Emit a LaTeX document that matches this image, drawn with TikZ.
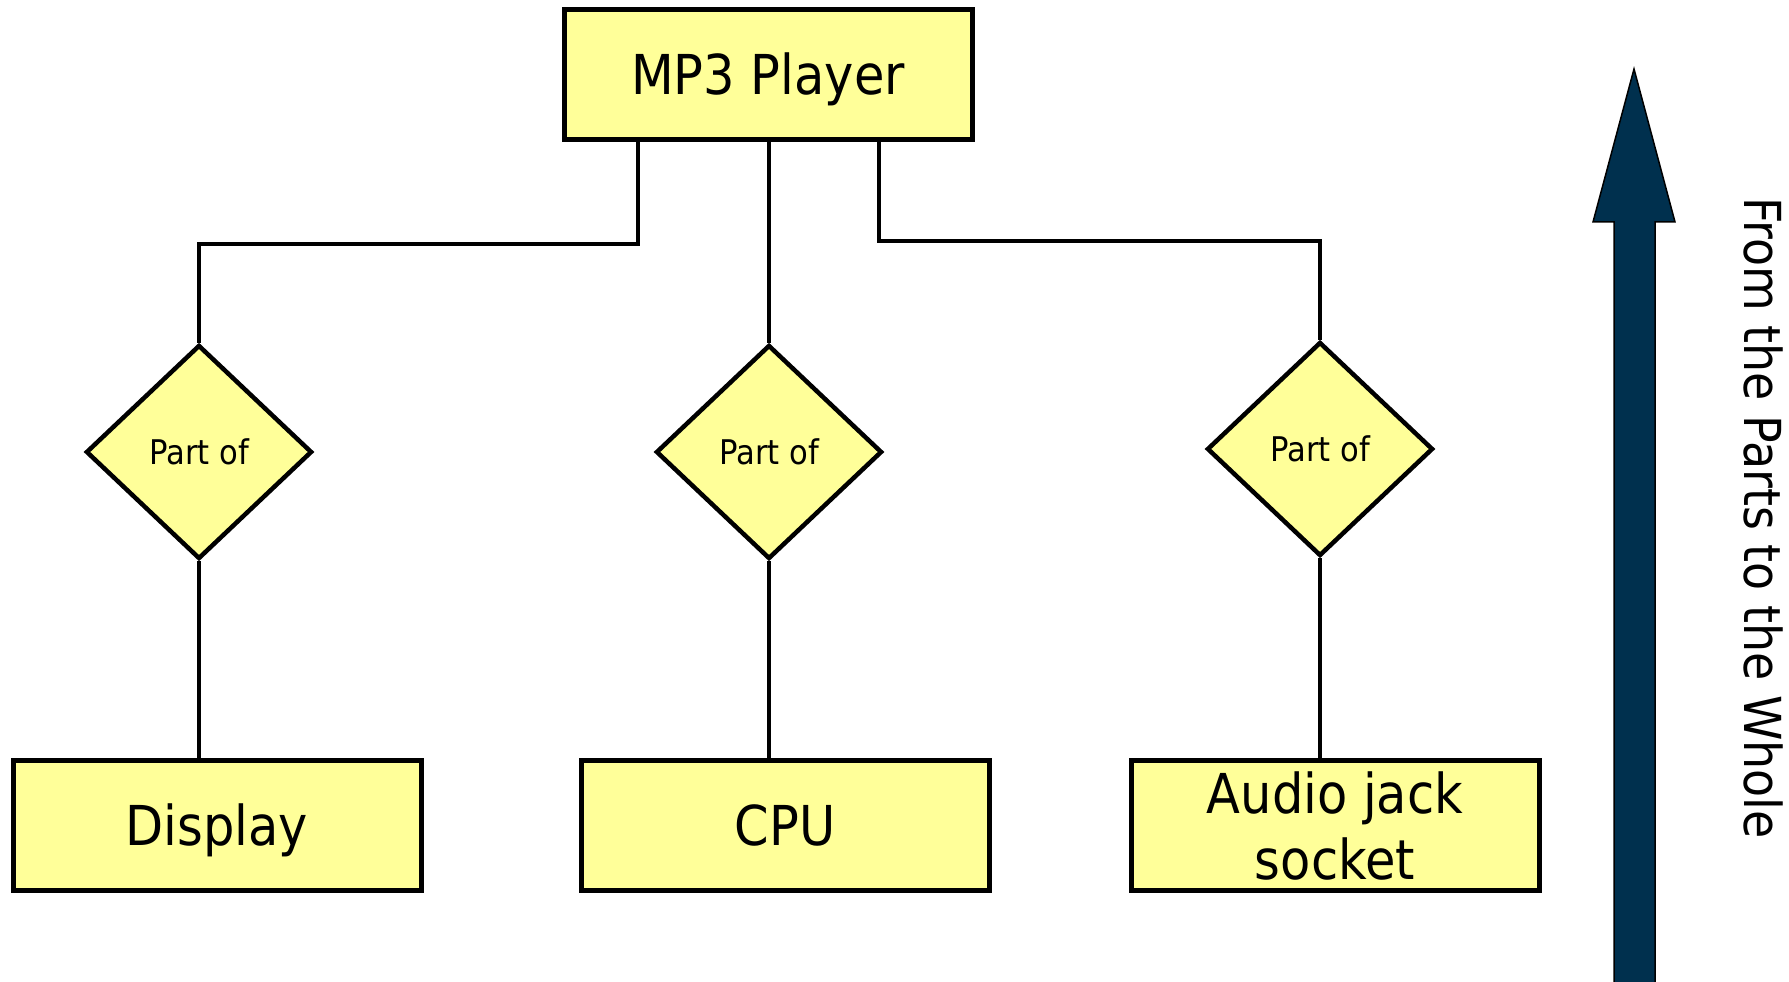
\documentclass[tikz,border=0pt]{standalone}
\usepackage{fontspec}
\setmainfont{DejaVu Sans}[FakeStretch=0.9]
\usetikzlibrary{shapes.geometric}
\definecolor{partfill}{HTML}{FFFF99}
\definecolor{arrowfill}{HTML}{00304E}
\begin{document}
\begin{tikzpicture}[x=1pt,y=1pt,
    comp/.style={draw,fill=partfill,line width=5pt,minimum width=408pt,minimum height=130pt,inner sep=0pt,font=\fontsize{55}{66}\selectfont},
    oneline/.style={text height=40pt,text depth=0pt},
    rel/.style={diamond,draw,fill=partfill,line width=4.5pt,minimum width=226pt,minimum height=214pt,inner sep=0pt,text height=25pt,text depth=0pt,font=\fontsize{34}{40}\selectfont},
    link/.style={line width=4.5pt}]
    \useasboundingbox (0,0) rectangle (1789,982);
    \node[comp,oneline] (mp3) at (768,907) {MP3 Player};
    \node[comp,oneline] (display) at (217,156) {Display};
    \node[comp,oneline] (cpu) at (785,156) {CPU};
    \node[comp,align=center] (audio) at (1335,156) {Audio jack\\socket};
    \node[rel] (displayof) at (199,530) {Part of};
    \node[rel] (cpuof) at (769,530) {Part of};
    \node[rel] (audioof) at (1320,533) {Part of};
    \coordinate (lknee) at (638,738);
    \coordinate (rknee) at (879,741);
    \draw[link] (mp3.south -| lknee) -- (lknee) -| (displayof.north);
    \draw[link] (mp3.south -| cpuof.north) -- (cpuof.north);
    \draw[link] (mp3.south -| rknee) -- (rknee) -| (audioof.north);
    \draw[link] (displayof.south) -- (displayof.south |- display.north);
    \draw[link] (cpuof.south) -- (cpuof.south |- cpu.north);
    \draw[link] (audioof.south) -- (audioof.south |- audio.north);
    \draw[line width=1.5pt,fill=arrowfill] (1614,-10) -- (1614,760) -- (1593,760) -- (1634,913) -- (1675,760) -- (1655,760) -- (1655,-10) -- cycle;
    \node[rotate=-90,text height=37pt,text depth=0pt,inner sep=0pt,font=\fontsize{51}{60}\selectfont] (direction) at (1763,464) {From the Parts to the Whole};
\end{tikzpicture}
\end{document}
